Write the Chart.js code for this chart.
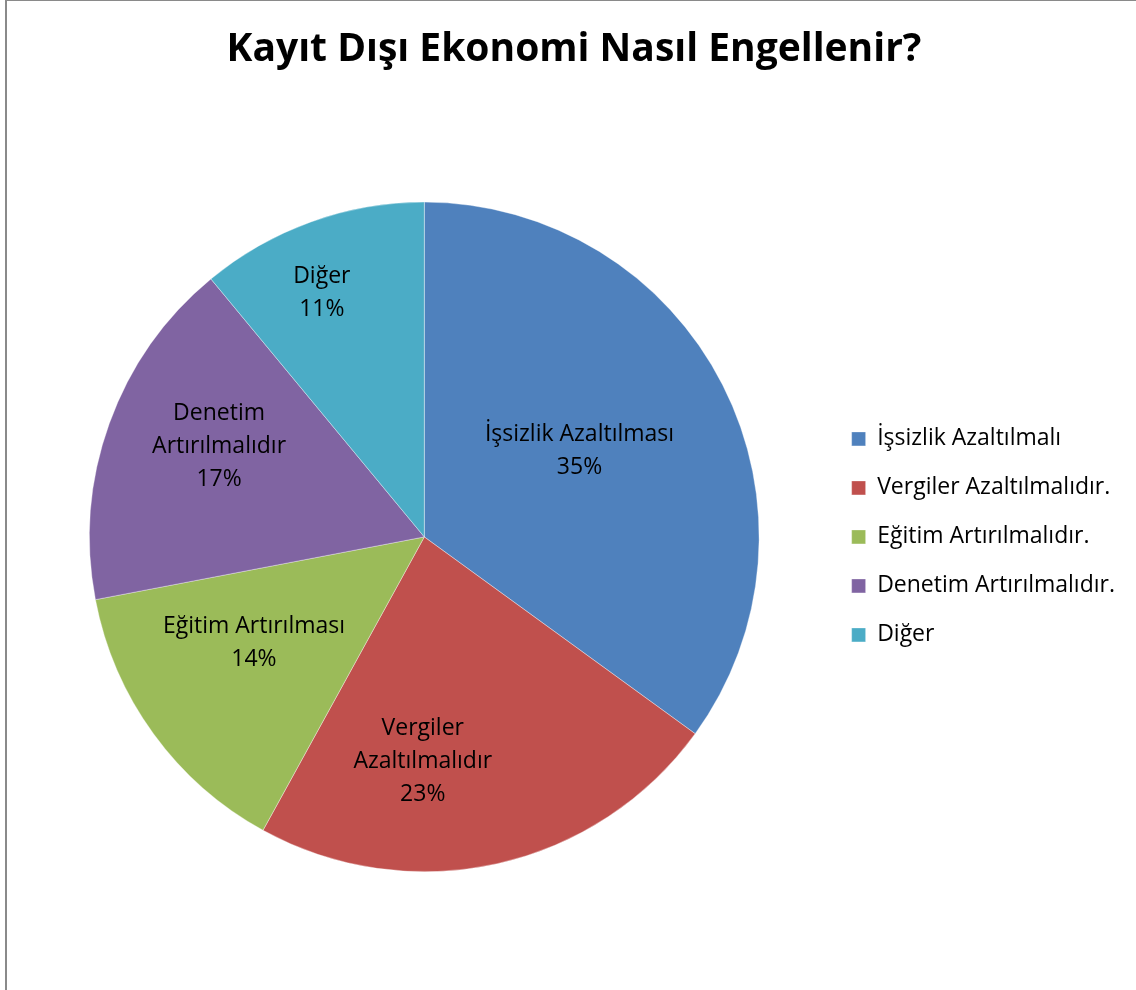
<!DOCTYPE html>
<html>
<head>
<meta charset="utf-8">
<script src="https://cdn.jsdelivr.net/npm/chart.js@4"></script>
<style>
  body { margin: 0; background: #fff; overflow: hidden; }
  #frame { position: absolute; left: 5px; top: 0; width: 1140px; height: 1000px;
           border-left: 2px solid #8a8a8a; border-top: 1px solid #8a8a8a; }
  #wrap { position: absolute; left: 0; top: 0; width: 1136px; height: 990px; }
</style>
</head>
<body>
<div id="frame"></div>
<div id="wrap"><canvas id="myChart"></canvas></div>
<script>
// data
const legendNames = ["İşsizlik Azaltılmalı", "Vergiler Azaltılmalıdır.", "Eğitim Artırılmalıdır.", "Denetim Artırılmalıdır.", "Diğer"];
const sliceNames = [["İşsizlik Azaltılması"], ["Vergiler", "Azaltılmalıdır"], ["Eğitim Artırılması"], ["Denetim", "Artırılmalıdır"], ["Diğer"]];
const percents = [35, 23, 14, 17, 11];

const colors = ["#4F81BD", "#C0504D", "#9BBB59", "#8064A2", "#4BACC6"];
// label placement inside each slice (fraction of radius, angle nudge in degrees)
const labelRadius = [0.53, 0.67, 0.6, 0.67, 0.79];
const labelNudge = [-2, 13, 4, 4, -3];

const fontName = "'Open Sans', Lato, sans-serif";

// draws the text labels in the slices
const sliceLabels = {
  id: "sliceLabels",
  afterDatasetsDraw(chart) {
    const ctx = chart.ctx;
    const arcs = chart.getDatasetMeta(0).data;
    ctx.save();
    ctx.fillStyle = "#000";
    ctx.font = "23px " + fontName;
    ctx.textAlign = "center";
    ctx.textBaseline = "middle";
    arcs.forEach(function(arc, i) {
      const p = arc.getProps(["x", "y", "startAngle", "endAngle", "outerRadius"], true);
      const a = (p.startAngle + p.endAngle) / 2 + labelNudge[i] * Math.PI / 180;
      const r = p.outerRadius * labelRadius[i];
      const cx = p.x + Math.cos(a) * r;
      const cy = p.y + Math.sin(a) * r;
      const lines = sliceNames[i].concat([percents[i] + "%"]);
      const lh = 33;
      lines.forEach(function(t, k) {
        ctx.fillText(t, cx, cy + (k - (lines.length - 1) / 2) * lh);
      });
    });
    ctx.restore();
  }
};

const ctx = document.getElementById("myChart").getContext("2d");
const myChart = new Chart(ctx, {
  type: "pie",
  data: {
    labels: legendNames,
    datasets: [{
      data: percents,
      backgroundColor: colors,
      borderColor: "rgba(255,255,255,0.6)",
      borderWidth: 0.6
    }]
  },
  options: {
    responsive: true,
    maintainAspectRatio: false,
    animation: false,
    layout: { padding: { left: 23, right: 11, top: 0, bottom: 118 } },
    plugins: {
      title: {
        display: true,
        text: "Kayıt Dışı Ekonomi Nasıl Engellenir?",
        color: "#000",
        font: { family: fontName, size: 39, weight: "bold" },
        padding: { top: 26, bottom: 129 }
      },
      legend: {
        position: "right",
        fullSize: false,
        labels: {
          color: "#000",
          font: { family: fontName, size: 23 },
          boxWidth: 14,
          boxHeight: 14,
          padding: 26
        }
      },
      tooltip: { enabled: false }
    }
  },
  plugins: [sliceLabels]
});
</script>
</body>
</html>
